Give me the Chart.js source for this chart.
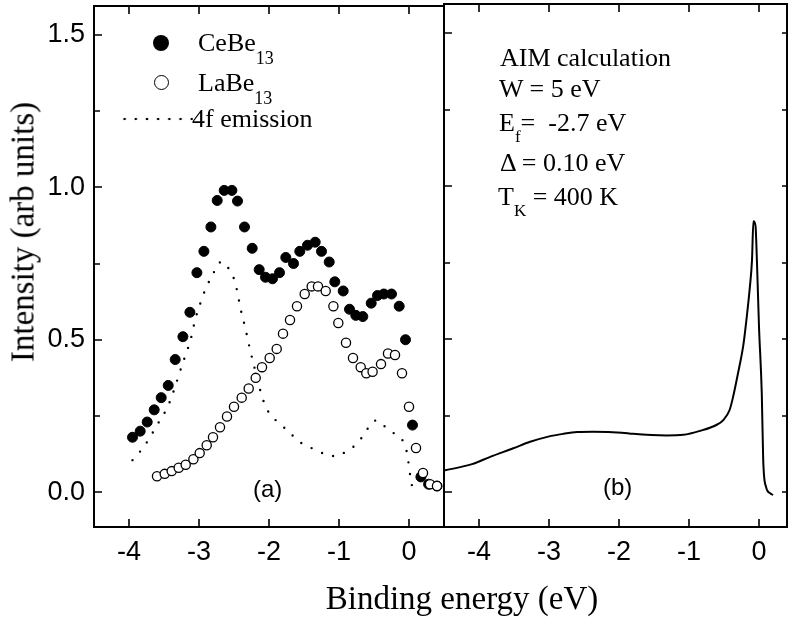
<!DOCTYPE html>
<html>
<head>
<meta charset="utf-8">
<script src="https://cdn.jsdelivr.net/npm/chart.js@4/dist/chart.umd.min.js"></script>
<style>
  body { margin: 0; background: #fff; }
  #wrap { position: relative; width: 788px; height: 620px; overflow: hidden; }
  canvas { position: absolute; top: 0; }
  .txt { position: absolute; font-family: 'Liberation Serif', serif; font-size: 26px; line-height: 26px; color: #000; white-space: pre; }
  .sub { position: relative; font-size: 18px; }
  .lab { position: absolute; font-family: 'Liberation Sans', sans-serif; font-size: 24px; line-height: 24px; color: #000; }
</style>
</head>
<body>
<div id="wrap">
  <canvas id="left" width="450" height="620" style="left:0"></canvas>
  <canvas id="right" width="348" height="620" style="left:440px"></canvas>

  <!-- leyenda (a) -->
  <div style="position:absolute;left:153px;top:35px;width:16px;height:16px;border-radius:50%;background:#000"></div>
  <div style="position:absolute;left:154px;top:75px;width:13px;height:13px;border-radius:50%;border:1.4px solid #000"></div>
  <div style="position:absolute;left:119px;top:117px;width:74px;height:4px;background-image:radial-gradient(circle,#000 1.1px,transparent 1.6px);background-size:11.2px 4px"></div>
  <div class="txt" style="left:198px;top:30px">CeBe<span class="sub" style="top:13px">13</span></div>
  <div class="txt" style="left:198px;top:70px">LaBe<span class="sub" style="top:13px">13</span></div>
  <div class="txt" style="left:192px;top:106px">4f emission</div>

  <!-- notas (b) -->
  <div class="txt" style="left:500px;top:45px">AIM calculation</div>
  <div class="txt" style="left:499px;top:76px">W = 5 eV</div>
  <div class="txt" style="left:499px;top:110px">E<span class="sub" style="top:11px;font-size:17px">f</span>=  -2.7 eV</div>
  <div class="txt" style="left:500px;top:150px">Δ = 0.10 eV</div>
  <div class="txt" style="left:498px;top:184px">T<span class="sub" style="top:11px;font-size:17px">K</span> = 400 K</div>

  <div class="lab" style="left:253px;top:477px">(a)</div>
  <div class="lab" style="left:603px;top:475px">(b)</div>

  <div class="txt" style="left:0;width:924px;text-align:center;top:582px;font-size:33px;line-height:33px">Binding energy (eV)</div>
  <div class="txt" style="left:23px;top:232px;font-size:33px;line-height:33px;transform:translate(-50%,-50%) rotate(-90deg)">Intensity (arb units)</div>
</div>

<script>
// CeBe13 (círculos llenos)
var ceEnergy = [-3.95, -3.84, -3.74, -3.64, -3.54, -3.44, -3.34, -3.23, -3.13, -3.03, -2.93, -2.83, -2.74, -2.64, -2.53,
  -2.45, -2.35, -2.24, -2.14, -2.05, -1.95, -1.85, -1.76, -1.65, -1.56, -1.45, -1.34, -1.25, -1.14, -1.06,
  -0.94, -0.85, -0.76, -0.66, -0.54, -0.45, -0.36, -0.25, -0.14, -0.05, 0.05, 0.17, 0.28, 0.40];
var ceIntensity = [0.18, 0.20, 0.23, 0.27, 0.31, 0.35, 0.435, 0.51, 0.59, 0.72, 0.79, 0.87, 0.957, 0.99, 0.99,
  0.955, 0.87, 0.80, 0.73, 0.705, 0.70, 0.72, 0.77, 0.75, 0.79, 0.81, 0.82, 0.79, 0.755, 0.69,
  0.66, 0.60, 0.58, 0.576, 0.62, 0.645, 0.65, 0.65, 0.61, 0.50, 0.22, 0.05, 0.026, 0.02];

// LaBe13 (círculos vacíos)
var laEnergy = [-3.60, -3.49, -3.39, -3.29, -3.19, -3.08, -2.99, -2.89, -2.80, -2.70, -2.60, -2.50, -2.39, -2.29,
  -2.19, -2.10, -1.99, -1.89, -1.80, -1.70, -1.60, -1.49, -1.39, -1.30, -1.19, -1.08, -1.01, -0.90, -0.80,
  -0.69, -0.61, -0.52, -0.40, -0.30, -0.20, -0.10, 0.00, 0.10, 0.20, 0.30, 0.40];
var laIntensity = [0.052, 0.06, 0.069, 0.08, 0.09, 0.108, 0.128, 0.154, 0.18, 0.213, 0.248, 0.28, 0.31, 0.34,
  0.375, 0.41, 0.44, 0.47, 0.52, 0.565, 0.61, 0.65, 0.675, 0.675, 0.66, 0.61, 0.555, 0.49, 0.44,
  0.41, 0.39, 0.395, 0.42, 0.455, 0.45, 0.39, 0.28, 0.145, 0.063, 0.026, 0.02];

// emisión 4f (punteada)
var f4Energy = [-3.95, -3.80, -3.70, -3.60, -3.50, -3.42, -3.35, -3.28, -3.20, -3.12, -3.05, -2.98, -2.90, -2.80,
  -2.72, -2.65, -2.58, -2.51, -2.46, -2.40, -2.34, -2.28, -2.22, -2.15, -2.08, -2.00, -1.90, -1.80, -1.70,
  -1.60, -1.50, -1.35, -1.20, -1.05, -0.90, -0.75, -0.62, -0.52, -0.45, -0.37, -0.20, -0.08, -0.03, 0.00, 0.02, 0.05];
var f4Intensity = [0.105, 0.145, 0.18, 0.22, 0.257, 0.295, 0.34, 0.39, 0.445, 0.50, 0.57, 0.62, 0.67, 0.715,
  0.752, 0.755, 0.735, 0.706, 0.665, 0.595, 0.54, 0.477, 0.42, 0.355, 0.30, 0.26, 0.235, 0.215, 0.195,
  0.17, 0.157, 0.14, 0.125, 0.118, 0.133, 0.158, 0.197, 0.232, 0.235, 0.22, 0.19, 0.165, 0.13, 0.085, 0.05, 0.012];

// cálculo AIM (panel b)
var aimEnergy = [-4.5, -4.1, -3.84, -3.51, -3.27, -3.01, -2.8, -2.6, -2.37, -1.96, -1.8, -1.32, -1.08, -0.84,
  -0.61, -0.51, -0.42, -0.37, -0.30, -0.22, -0.18, -0.13, -0.10, -0.08, -0.05, -0.03, 0.00, 0.04, 0.06, 0.10, 0.16, 0.20];
var aimIntensity = [0.07, 0.091, 0.115, 0.143, 0.164, 0.181, 0.19, 0.196, 0.197, 0.194, 0.19, 0.185, 0.187, 0.20,
  0.219, 0.235, 0.268, 0.311, 0.388, 0.486, 0.562, 0.671, 0.758, 0.885, 0.87, 0.758, 0.54, 0.32, 0.105, 0.017, -0.004, -0.01];

// ticks
var xTicks = [-4, -3, -2, -1, 0];
var yTicks = [0, 0.25, 0.5, 0.75, 1.0, 1.25, 1.5];
var yLabels = ['0.0', '', '0.5', '', '1.0', '', '1.5'];

var yMin = -0.1144, yMax = 1.595;

function puntos(xs, ys) {
  return xs.map(function (x, i) { return { x: x, y: ys[i] }; });
}

// marco y ticks hacia adentro
var marco = {
  id: 'marco',
  afterDatasetsDraw: function (chart, args, opts) {
    var ctx = chart.ctx, a = chart.chartArea;
    var x = chart.scales.x, y = chart.scales.y;
    ctx.save();
    ctx.strokeStyle = '#000';
    ctx.lineWidth = 2;
    ctx.strokeRect(a.left, a.top, a.right - a.left, a.bottom - a.top);
    ctx.lineWidth = 1.6;
    ctx.beginPath();
    x.ticks.forEach(function (t) {
      var px = Math.round(x.getPixelForValue(t.value));
      ctx.moveTo(px, a.bottom); ctx.lineTo(px, a.bottom - 8);
      ctx.moveTo(px, a.top); ctx.lineTo(px, a.top + 8);
    });
    y.ticks.forEach(function (t, i) {
      var py = Math.round(y.getPixelForValue(t.value));
      var len = yLabels[i] ? 8 : 6;
      if (opts.left) { ctx.moveTo(a.left, py); ctx.lineTo(a.left + len, py); }
      if (opts.right) { ctx.moveTo(a.right, py); ctx.lineTo(a.right - 5, py); }
    });
    ctx.stroke();
    ctx.restore();
  }
};

function escalaX(maximo) {
  return {
    type: 'linear', min: -4.5, max: maximo,
    grid: { display: false, drawTicks: false },
    border: { display: false },
    afterBuildTicks: function (s) { s.ticks = xTicks.map(function (v) { return { value: v }; }); },
    ticks: {
      padding: 9, color: '#000',
      font: { family: 'Liberation Sans', size: 27 },
      callback: function (v) { return String(v); }
    },
    afterFit: function (s) {
      s.height = 93;
      s.paddingLeft = 0; s.paddingRight = 0;
    }
  };
}

function escalaY(mostrar) {
  return {
    type: 'linear', min: yMin, max: yMax,
    grid: { display: false, drawTicks: false },
    border: { display: false },
    afterBuildTicks: function (s) { s.ticks = yTicks.map(function (v) { return { value: v }; }); },
    ticks: {
      display: mostrar, padding: 9, color: '#000',
      font: { family: 'Liberation Sans', size: 27 },
      callback: function (v, i) { return yLabels[i]; }
    },
    afterFit: function (s) {
      s.width = mostrar ? 94 : 0;
      s.paddingTop = 0; s.paddingBottom = 0;
    }
  };
}

new Chart(document.getElementById('left'), {
  type: 'scatter',
  data: {
    datasets: [
      {
        label: 'LaBe13', data: puntos(laEnergy, laIntensity), order: 0,
        pointRadius: 4.6, pointBackgroundColor: '#fff', pointBorderColor: '#000', pointBorderWidth: 1.3
      },
      {
        label: 'CeBe13', data: puntos(ceEnergy, ceIntensity), order: 1,
        pointRadius: 5, pointBackgroundColor: '#000', pointBorderColor: '#000', pointBorderWidth: 1
      },
      {
        label: '4f emission', data: puntos(f4Energy, f4Intensity), order: 2,
        showLine: true, pointRadius: 0, borderColor: '#000', borderWidth: 2.4,
        borderDash: [0, 11.5], borderCapStyle: 'round', cubicInterpolationMode: 'monotone'
      }
    ]
  },
  options: {
    responsive: false, animation: false, devicePixelRatio: 1,
    layout: { padding: { top: 4, right: 6, left: 0, bottom: 0 } },
    scales: { x: escalaX(0.5), y: escalaY(true) },
    plugins: { legend: { display: false }, tooltip: { enabled: false }, marco: { left: true, right: false } }
  },
  plugins: [marco]
});

new Chart(document.getElementById('right'), {
  type: 'scatter',
  data: {
    datasets: [{
      label: 'AIM calculation', data: puntos(aimEnergy, aimIntensity),
      showLine: true, pointRadius: 0, borderColor: '#000', borderWidth: 2,
      cubicInterpolationMode: 'monotone'
    }]
  },
  options: {
    responsive: false, animation: false, devicePixelRatio: 1,
    layout: { padding: { top: 4, right: 1, left: 4, bottom: 0 } },
    scales: { x: escalaX(0.4), y: escalaY(false) },
    plugins: { legend: { display: false }, tooltip: { enabled: false }, marco: { left: true, right: true } }
  },
  plugins: [marco]
});
</script>
</body>
</html>
